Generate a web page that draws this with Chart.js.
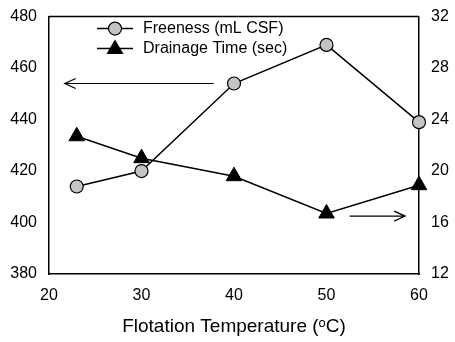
<!DOCTYPE html>
<html lang="en">
<head>
<meta charset="UTF-8">
<title>Freeness and Drainage Time</title>
<script src="https://cdn.jsdelivr.net/npm/chart.js"></script>
<style>
  html, body { margin: 0; padding: 0; background: #fff; }
  #wrap { width: 455px; height: 342px; }
</style>
</head>
<body>
<div id="wrap"><canvas id="chart" width="455" height="342"></canvas></div>
<script>
// data
const temps = [23, 30, 40, 50, 60];
const freeness = [414, 420, 454, 469, 439];       // mL CSF, left axis
const drainage = [22.7, 21.0, 19.6, 16.7, 18.9];  // sec, right axis
const seriesNames = ['Freeness (mL CSF)', 'Drainage Time (sec)'];
const xTicks = [20, 30, 40, 50, 60];

const FONT = 'Liberation Sans, Arial, sans-serif';

// arrows pointing to the axis each curve belongs to
const arrowPlugin = {
  id: 'arrows',
  afterDatasetsDraw(chart) {
    const { ctx, scales } = chart;
    const x = scales.x, yl = scales.y, yr = scales.y2;
    function arrow(x1, y1, x2, y2) {
      const dir = Math.sign(x2 - x1);
      ctx.save();
      ctx.strokeStyle = '#000';
      ctx.lineWidth = 1.2;
      ctx.beginPath();
      ctx.moveTo(x1, y1); ctx.lineTo(x2, y2);
      ctx.moveTo(x2 - dir * 11, y2 - 5); ctx.lineTo(x2, y2); ctx.lineTo(x2 - dir * 11, y2 + 5);
      ctx.stroke();
      ctx.restore();
    }
    arrow(x.getPixelForValue(37.8), yl.getPixelForValue(454), x.getPixelForValue(21.7), yl.getPixelForValue(454));
    arrow(x.getPixelForValue(52.5), yr.getPixelForValue(16.5), x.getPixelForValue(58.5), yr.getPixelForValue(16.5));
  }
};

// legend inside the plot, top left
const legendPlugin = {
  id: 'innerLegend',
  afterDraw(chart) {
    const { ctx, chartArea } = chart;
    const x0 = chartArea.left + 48, rows = [chartArea.top + 12, chartArea.top + 32];
    ctx.save();
    chart.data.datasets.forEach((ds, i) => {
      const y = rows[i];
      ctx.strokeStyle = '#000';
      ctx.lineWidth = 1.5;
      ctx.beginPath(); ctx.moveTo(x0, y); ctx.lineTo(x0 + 36, y); ctx.stroke();
      ctx.fillStyle = ds.pointBackgroundColor;
      ctx.beginPath();
      if (ds.pointStyle === 'triangle') {
        const r = ds.pointRadius;
        ctx.moveTo(x0 + 18, y - r); ctx.lineTo(x0 + 18 + r * 0.95, y + r * 0.6); ctx.lineTo(x0 + 18 - r * 0.95, y + r * 0.6); ctx.closePath();
        ctx.fill();
      } else {
        ctx.arc(x0 + 18, y, ds.pointRadius, 0, Math.PI * 2);
        ctx.fill(); ctx.lineWidth = 1.2; ctx.stroke();
      }
      ctx.fillStyle = '#000';
      ctx.font = '16px ' + FONT;
      ctx.textBaseline = 'middle';
      ctx.fillText(ds.label, x0 + 46, y);
    });
    ctx.restore();
  }
};

const ctx = document.getElementById('chart').getContext('2d');
new Chart(ctx, {
  type: 'line',
  data: {
    datasets: [
      {
        label: seriesNames[0],
        data: temps.map((t, i) => ({ x: t, y: freeness[i] })),
        yAxisID: 'y',
        borderColor: '#000',
        borderWidth: 1.5,
        pointStyle: 'circle',
        pointRadius: 6.5,
        pointBackgroundColor: '#c4c4c4',
        pointBorderColor: '#000',
        pointBorderWidth: 1.2,
        tension: 0,
        clip: false
      },
      {
        label: seriesNames[1],
        data: temps.map((t, i) => ({ x: t, y: drainage[i] })),
        yAxisID: 'y2',
        borderColor: '#000',
        borderWidth: 1.5,
        pointStyle: 'triangle',
        pointRadius: 9,
        pointBackgroundColor: '#000',
        pointBorderColor: '#000',
        pointBorderWidth: 1,
        tension: 0,
        clip: false
      }
    ]
  },
  options: {
    responsive: false,
    animation: false,
    layout: { padding: { top: 15, left: 0, right: 0, bottom: 0 } },
    plugins: { legend: { display: false }, tooltip: { enabled: false } },
    scales: {
      x: {
        type: 'linear',
        min: 20, max: 60,
        afterBuildTicks: s => { s.ticks = xTicks.map(v => ({ value: v })); },
        afterFit: s => { s.height = 68; },
        grid: { display: false, drawTicks: true, tickLength: 5, tickColor: '#000' },
        border: { color: '#000', width: 1.5 },
        ticks: { color: '#000', font: { family: FONT, size: 16 }, padding: 7 },
        title: { display: true, text: 'Flotation Temperature (\u1D52C)', color: '#000', font: { family: FONT, size: 19 }, padding: { top: 6 } }
      },
      y: {
        position: 'left',
        min: 380, max: 480,
        ticks: { stepSize: 20, color: '#000', font: { family: FONT, size: 16 }, padding: 7 },
        afterFit: s => { s.width = 49; },
        grid: { display: false, drawTicks: true, tickLength: 5, tickColor: '#000' },
        border: { color: '#000', width: 1.5 }
      },
      y2: {
        position: 'right',
        min: 12, max: 32,
        ticks: { stepSize: 4, color: '#000', font: { family: FONT, size: 16 }, padding: 7 },
        afterFit: s => { s.width = 36; },
        grid: { display: false, drawTicks: true, tickLength: 5, tickColor: '#000' },
        border: { color: '#000', width: 1.5 }
      }
    }
  },
  plugins: [arrowPlugin, legendPlugin, {
    id: 'topBorder',
    afterDraw(chart) {
      const { ctx, chartArea } = chart;
      ctx.save();
      ctx.strokeStyle = '#000'; ctx.lineWidth = 1.5;
      ctx.beginPath(); ctx.moveTo(chartArea.left, chartArea.top); ctx.lineTo(chartArea.right, chartArea.top); ctx.stroke();
      ctx.restore();
    }
  }]
});
</script>
</body>
</html>
